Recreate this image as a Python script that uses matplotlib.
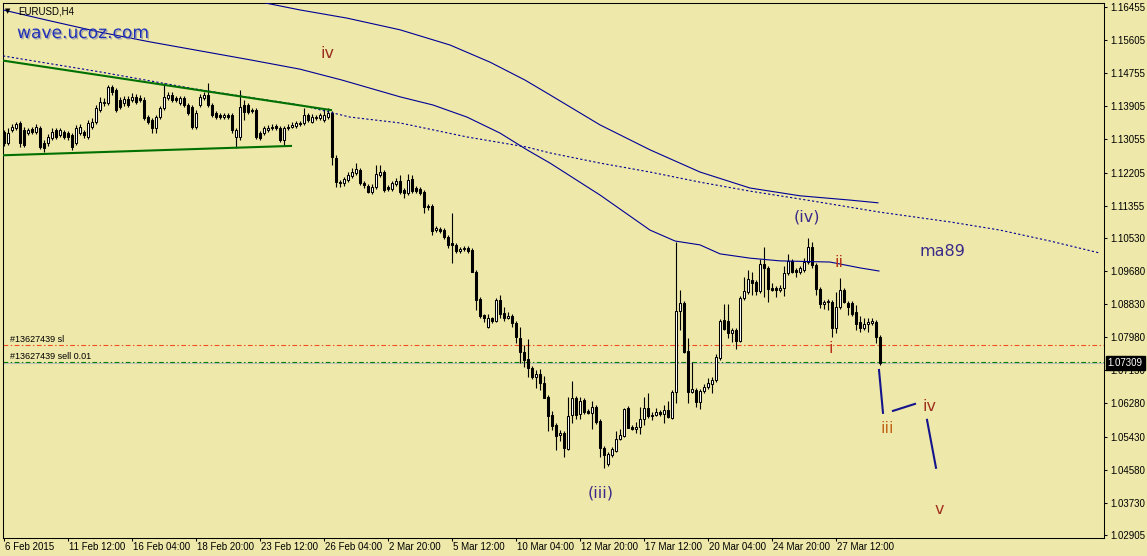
import numpy as np
import matplotlib
matplotlib.use("Agg")
import matplotlib.pyplot as plt
import matplotlib.patheffects as pe

plt.rcParams['font.family'] = ['Liberation Sans', 'DejaVu Sans']

# ---------------- data (EURUSD H4 candles) ----------------
open_ = [
 1.1325, 1.1296, 1.1330, 1.1335, 1.1348, 1.1330, 1.1322, 1.1332, 1.1325, 1.1335,
 1.1296, 1.1296, 1.1309, 1.1330, 1.1317, 1.1325, 1.1322, 1.1317, 1.1296, 1.1322,
 1.1325, 1.1312, 1.1338, 1.1350, 1.1381, 1.1399, 1.1399, 1.1440, 1.1433, 1.1407,
 1.1399, 1.1409, 1.1407, 1.1415, 1.1412, 1.1407, 1.1363, 1.1356, 1.1335, 1.1363,
 1.1386, 1.1412, 1.1420, 1.1412, 1.1399, 1.1412, 1.1394, 1.1389, 1.1338, 1.1394,
 1.1412, 1.1420, 1.1394, 1.1374, 1.1368, 1.1363, 1.1368, 1.1368, 1.1312, 1.1312,
 1.1394, 1.1394, 1.1381, 1.1381, 1.1322, 1.1322, 1.1330, 1.1335, 1.1340, 1.1335,
 1.1304, 1.1335, 1.1338, 1.1340, 1.1348, 1.1348, 1.1368, 1.1350, 1.1361, 1.1361,
 1.1356, 1.1363, 1.1374, 1.1258, 1.1196, 1.1194, 1.1202, 1.1212, 1.1220, 1.1227,
 1.1194, 1.1186, 1.1171, 1.1184, 1.1214, 1.1222, 1.1184, 1.1178, 1.1191, 1.1199,
 1.1176, 1.1168, 1.1204, 1.1181, 1.1178, 1.1171, 1.1135, 1.1135, 1.1073, 1.1076,
 1.1073, 1.1055, 1.1040, 1.1035, 1.1019, 1.1024, 1.1027, 1.1022, 1.0966, 1.0896,
 1.0855, 1.0824, 1.0847, 1.0840, 1.0894, 1.0860, 1.0847, 1.0853, 1.0835, 1.0796,
 1.0760, 1.0742, 1.0719, 1.0696, 1.0704, 1.0681, 1.0645, 1.0599, 1.0573, 1.0548,
 1.0552, 1.0511, 1.0599, 1.0642, 1.0601, 1.0637, 1.0609, 1.0604, 1.0619, 1.0583,
 1.0514, 1.0473, 1.0496, 1.0506, 1.0537, 1.0545, 1.0616, 1.0568, 1.0563, 1.0568,
 1.0588, 1.0616, 1.0596, 1.0599, 1.0606, 1.0601, 1.0611, 1.0591, 1.0658, 1.0865,
 1.0886, 1.0763, 1.0658, 1.0663, 1.0632, 1.0660, 1.0670, 1.0678, 1.0688, 1.0745,
 1.0842, 1.0840, 1.0809, 1.0817, 1.0788, 1.0899, 1.0914, 1.0945, 1.0940, 1.0917,
 1.0986, 1.0976, 1.0924, 1.0924, 1.0919, 1.0924, 1.0963, 1.0994, 1.0971, 1.0966,
 1.0971, 1.0991, 1.1030, 1.0983, 1.0922, 1.0884, 1.0888, 1.0888, 1.0822, 1.0876,
 1.0919, 1.0886, 1.0886, 1.0863, 1.0837, 1.0822, 1.0832, 1.0835, 1.0837, 1.0799]
high_ = [
 1.1330, 1.1335, 1.1345, 1.1350, 1.1353, 1.1338, 1.1335, 1.1338, 1.1345, 1.1340,
 1.1304, 1.1319, 1.1335, 1.1335, 1.1335, 1.1330, 1.1327, 1.1322, 1.1343, 1.1345,
 1.1330, 1.1356, 1.1361, 1.1394, 1.1415, 1.1412, 1.1445, 1.1445, 1.1438, 1.1415,
 1.1417, 1.1417, 1.1425, 1.1422, 1.1420, 1.1415, 1.1368, 1.1361, 1.1368, 1.1391,
 1.1451, 1.1427, 1.1427, 1.1417, 1.1417, 1.1417, 1.1399, 1.1394, 1.1381, 1.1422,
 1.1427, 1.1451, 1.1399, 1.1379, 1.1374, 1.1374, 1.1374, 1.1374, 1.1335, 1.1433,
 1.1407, 1.1399, 1.1386, 1.1386, 1.1327, 1.1340, 1.1343, 1.1345, 1.1345, 1.1340,
 1.1340, 1.1345, 1.1350, 1.1353, 1.1353, 1.1386, 1.1374, 1.1371, 1.1368, 1.1374,
 1.1384, 1.1386, 1.1379, 1.1266, 1.1202, 1.1209, 1.1222, 1.1232, 1.1245, 1.1232,
 1.1199, 1.1191, 1.1191, 1.1240, 1.1240, 1.1227, 1.1189, 1.1199, 1.1207, 1.1214,
 1.1181, 1.1217, 1.1214, 1.1186, 1.1184, 1.1176, 1.1140, 1.1140, 1.1083, 1.1081,
 1.1078, 1.1060, 1.1117, 1.1040, 1.1030, 1.1032, 1.1032, 1.1027, 1.0971, 1.0901,
 1.0858, 1.0858, 1.0850, 1.0899, 1.0906, 1.0876, 1.0863, 1.0858, 1.0840, 1.0824,
 1.0778, 1.0793, 1.0724, 1.0714, 1.0717, 1.0699, 1.0650, 1.0609, 1.0578, 1.0560,
 1.0557, 1.0645, 1.0686, 1.0647, 1.0645, 1.0642, 1.0614, 1.0634, 1.0624, 1.0588,
 1.0519, 1.0504, 1.0517, 1.0557, 1.0563, 1.0616, 1.0621, 1.0573, 1.0581, 1.0619,
 1.0645, 1.0655, 1.0606, 1.0616, 1.0611, 1.0624, 1.0634, 1.0663, 1.1042, 1.0919,
 1.0891, 1.0796, 1.0734, 1.0668, 1.0665, 1.0678, 1.0693, 1.0696, 1.0755, 1.0845,
 1.0883, 1.0883, 1.0822, 1.0822, 1.0904, 1.0953, 1.0971, 1.0966, 1.0945, 1.0999,
 1.1030, 1.0981, 1.0937, 1.0930, 1.0932, 1.0981, 1.1011, 1.0999, 1.0976, 1.0981,
 1.1002, 1.1053, 1.1042, 1.0988, 1.0927, 1.0894, 1.0896, 1.0894, 1.0914, 1.0950,
 1.0924, 1.0891, 1.0891, 1.0881, 1.0853, 1.0847, 1.0847, 1.0847, 1.0842, 1.0804]
low_ = [
 1.1289, 1.1291, 1.1325, 1.1330, 1.1286, 1.1286, 1.1317, 1.1319, 1.1319, 1.1281,
 1.1273, 1.1289, 1.1304, 1.1306, 1.1312, 1.1306, 1.1304, 1.1279, 1.1291, 1.1317,
 1.1309, 1.1306, 1.1332, 1.1345, 1.1376, 1.1391, 1.1394, 1.1420, 1.1376, 1.1384,
 1.1391, 1.1389, 1.1402, 1.1397, 1.1402, 1.1356, 1.1345, 1.1322, 1.1322, 1.1358,
 1.1381, 1.1407, 1.1402, 1.1402, 1.1394, 1.1389, 1.1368, 1.1332, 1.1332, 1.1389,
 1.1407, 1.1389, 1.1363, 1.1358, 1.1358, 1.1358, 1.1358, 1.1322, 1.1284, 1.1304,
 1.1356, 1.1371, 1.1374, 1.1306, 1.1304, 1.1317, 1.1325, 1.1330, 1.1330, 1.1299,
 1.1289, 1.1330, 1.1335, 1.1335, 1.1340, 1.1343, 1.1350, 1.1348, 1.1356, 1.1356,
 1.1350, 1.1358, 1.1240, 1.1184, 1.1184, 1.1186, 1.1196, 1.1207, 1.1214, 1.1189,
 1.1181, 1.1168, 1.1166, 1.1178, 1.1209, 1.1171, 1.1173, 1.1173, 1.1186, 1.1166,
 1.1155, 1.1163, 1.1168, 1.1168, 1.1163, 1.1117, 1.1125, 1.1060, 1.1068, 1.1066,
 1.1050, 1.1027, 1.0989, 1.1014, 1.1014, 1.1019, 1.1014, 1.0966, 1.0868, 1.0847,
 1.0837, 1.0822, 1.0835, 1.0837, 1.0847, 1.0840, 1.0845, 1.0824, 1.0783, 1.0732,
 1.0722, 1.0696, 1.0691, 1.0668, 1.0663, 1.0642, 1.0557, 1.0560, 1.0509, 1.0532,
 1.0491, 1.0509, 1.0578, 1.0588, 1.0588, 1.0601, 1.0601, 1.0563, 1.0575, 1.0491,
 1.0463, 1.0468, 1.0491, 1.0504, 1.0534, 1.0542, 1.0565, 1.0560, 1.0552, 1.0550,
 1.0573, 1.0591, 1.0586, 1.0596, 1.0596, 1.0578, 1.0591, 1.0588, 1.0629, 1.0817,
 1.0758, 1.0629, 1.0655, 1.0619, 1.0614, 1.0655, 1.0665, 1.0655, 1.0683, 1.0740,
 1.0817, 1.0796, 1.0786, 1.0768, 1.0786, 1.0894, 1.0909, 1.0906, 1.0906, 1.0912,
 1.0901, 1.0888, 1.0917, 1.0901, 1.0914, 1.0904, 1.0958, 1.0963, 1.0953, 1.0960,
 1.0966, 1.0986, 1.0976, 1.0906, 1.0873, 1.0871, 1.0868, 1.0799, 1.0809, 1.0871,
 1.0886, 1.0855, 1.0853, 1.0817, 1.0811, 1.0817, 1.0811, 1.0830, 1.0783, 1.0727]
close_ = [
 1.1296, 1.1322, 1.1338, 1.1345, 1.1296, 1.1291, 1.1330, 1.1325, 1.1338, 1.1286,
 1.1284, 1.1312, 1.1325, 1.1312, 1.1330, 1.1312, 1.1312, 1.1286, 1.1335, 1.1338,
 1.1317, 1.1348, 1.1350, 1.1386, 1.1402, 1.1402, 1.1440, 1.1427, 1.1381, 1.1389,
 1.1409, 1.1394, 1.1415, 1.1402, 1.1407, 1.1361, 1.1350, 1.1335, 1.1363, 1.1386,
 1.1415, 1.1420, 1.1407, 1.1407, 1.1412, 1.1394, 1.1374, 1.1338, 1.1374, 1.1415,
 1.1420, 1.1394, 1.1368, 1.1363, 1.1363, 1.1368, 1.1363, 1.1330, 1.1330, 1.1389,
 1.1376, 1.1376, 1.1379, 1.1312, 1.1309, 1.1335, 1.1335, 1.1338, 1.1335, 1.1304,
 1.1335, 1.1338, 1.1343, 1.1348, 1.1345, 1.1368, 1.1356, 1.1363, 1.1363, 1.1368,
 1.1368, 1.1374, 1.1261, 1.1196, 1.1194, 1.1204, 1.1214, 1.1222, 1.1230, 1.1194,
 1.1189, 1.1171, 1.1184, 1.1217, 1.1222, 1.1176, 1.1178, 1.1194, 1.1199, 1.1171,
 1.1168, 1.1202, 1.1173, 1.1173, 1.1168, 1.1132, 1.1132, 1.1071, 1.1078, 1.1071,
 1.1055, 1.1035, 1.1035, 1.1019, 1.1024, 1.1027, 1.1019, 1.0966, 1.0894, 1.0853,
 1.0847, 1.0847, 1.0840, 1.0894, 1.0858, 1.0847, 1.0853, 1.0835, 1.0799, 1.0760,
 1.0740, 1.0719, 1.0696, 1.0704, 1.0681, 1.0642, 1.0596, 1.0570, 1.0545, 1.0552,
 1.0514, 1.0596, 1.0642, 1.0599, 1.0634, 1.0606, 1.0604, 1.0619, 1.0581, 1.0514,
 1.0496, 1.0499, 1.0511, 1.0537, 1.0547, 1.0614, 1.0565, 1.0563, 1.0568, 1.0588,
 1.0616, 1.0596, 1.0599, 1.0606, 1.0601, 1.0611, 1.0593, 1.0658, 1.0865, 1.0886,
 1.0760, 1.0658, 1.0665, 1.0632, 1.0660, 1.0670, 1.0681, 1.0688, 1.0748, 1.0840,
 1.0819, 1.0809, 1.0817, 1.0788, 1.0899, 1.0917, 1.0947, 1.0937, 1.0917, 1.0986,
 1.0976, 1.0922, 1.0919, 1.0919, 1.0924, 1.0963, 1.0994, 1.0966, 1.0966, 1.0976,
 1.0991, 1.1030, 1.0983, 1.0922, 1.0884, 1.0888, 1.0891, 1.0822, 1.0876, 1.0919,
 1.0888, 1.0876, 1.0858, 1.0832, 1.0822, 1.0832, 1.0837, 1.0840, 1.0799, 1.07309]

# date labels every 16 bars
date_ticks = [0, 16, 32, 48, 64, 80, 96, 112, 128, 144, 160, 176, 192, 208]
date_labels = ["6 Feb 2015", "11 Feb 12:00", "16 Feb 04:00", "18 Feb 20:00",
               "23 Feb 12:00", "26 Feb 04:00", "2 Mar 20:00", "5 Mar 12:00",
               "10 Mar 04:00", "12 Mar 20:00", "17 Mar 12:00", "20 Mar 04:00",
               "24 Mar 20:00", "27 Mar 12:00"]
price_ticks = [1.16455, 1.15605, 1.14755, 1.13905, 1.13055, 1.12205, 1.11355,
               1.10530, 1.09680, 1.08830, 1.07980, 1.07130, 1.06280, 1.05430,
               1.04580, 1.03730, 1.02905]

# moving averages (bar index, price)
ma_slow_x = [62, 65.25, 74, 85.75, 99, 111.5, 121.5, 130.25, 136.5, 149, 161.5,
             174, 186.5, 199, 211.5, 218.5]
ma_slow_y = [1.1678, 1.1656, 1.1638, 1.1617, 1.1587, 1.1548, 1.1504, 1.1458,
             1.1420, 1.1343, 1.1279, 1.1222, 1.1181, 1.1161, 1.1150, 1.1143]
ma_mid_x = [-0.25, 11.5, 24, 36.5, 49, 61.5, 74, 84.5, 99, 107.25, 115.75, 124,
            130.75, 136.5, 149, 161.5, 167.75, 174, 179, 186.5, 194, 206.5, 214,
            218.75]
ma_mid_y = [1.1638, 1.1610, 1.1581, 1.1556, 1.1533, 1.1510, 1.1486, 1.1458,
            1.1415, 1.1394, 1.1363, 1.1322, 1.1279, 1.1245, 1.1163, 1.1073,
            1.1045, 1.1035, 1.1012, 1.1001, 1.0994, 1.0991, 1.0976, 1.0968]
ma89_x = [-0.25, 24, 49, 74, 86.5, 99, 115.75, 130.75, 136.5, 149, 161.5, 174,
          186.5, 200.75, 219, 236.5, 249, 261.5, 274]
ma89_y = [1.1520, 1.1479, 1.1433, 1.1394, 1.1363, 1.1348, 1.1312, 1.1286,
          1.1271, 1.1245, 1.1222, 1.1196, 1.1173, 1.1150, 1.1119, 1.1094,
          1.1073, 1.1045, 1.1014]

# triangle trend lines
tl_upper_x = [-0.25, 81.75]
tl_upper_y = [1.1508, 1.1381]
tl_lower_x = [-0.25, 71.75]
tl_lower_y = [1.1265, 1.1289]

# order lines
sl_price = 1.0778
sell_price = 1.07335
bid_price = 1.07309

# projected wave path
proj_x = [[218.75, 219.75], [222.25, 227.75], [230.75, 233.0]]
proj_y = [[1.0714, 1.0604], [1.0609, 1.0627], [1.0586, 1.0463]]

# wave labels
wave_text = ["iv", "(iv)", "ii", "i", "iii", "iv", "v", "(iii)", "ma89"]
wave_x = [80.75, 200.75, 208.75, 206.75, 220.75, 231.5, 233.75, 149.25, 234.5]
wave_y = [1.1527, 1.1107, 1.0991, 1.0768, 1.0565, 1.0619, 1.0355, 1.0398, 1.1019]
wave_col = ["#9B2D1F", "#3A2A8A", "#B8321A", "#B8321A", "#C0651A", "#A0301E",
            "#A0301E", "#3A2A8A", "#3A2A8A"]

# ---------------- drawing ----------------
BG = "#EEE8AA"
W, H = 1147, 556
fig = plt.figure(figsize=(W / 100, H / 100), dpi=100, facecolor=BG)
ax = fig.add_axes([3 / W, 18 / H, 1101 / W, 535 / H])
ax.set_facecolor(BG)

o = np.array(open_); h = np.array(high_); l = np.array(low_); c = np.array(close_)
x = np.arange(len(o))
up = c >= o

ax.axhline(sl_price, color="#F0501E", lw=0.8, dashes=(4.3, 2.2, 1.3, 2.2), zorder=1.2)
ax.axhline(bid_price, color="#C0C0C0", lw=0.8, zorder=1.1)
ax.axhline(sell_price, color="#008000", lw=0.8, dashes=(4.3, 2.2, 1.3, 2.2), zorder=1.3)

ax.vlines(x, l, h, color="black", lw=0.8, zorder=2)
ax.bar(x, np.abs(c - o), bottom=np.minimum(o, c), width=0.5,
       color=np.where(up, "white", "black"), edgecolor="black", linewidth=0.75,
       zorder=2.5)

ax.plot(ma_slow_x, ma_slow_y, color="#000096", lw=0.8, zorder=3)
ax.plot(ma_mid_x, ma_mid_y, color="#000096", lw=0.8, zorder=3)
ax.plot(ma89_x, ma89_y, color="#000096", lw=0.8, dashes=(2, 2), zorder=3)
ax.plot(tl_upper_x, tl_upper_y, color="#007000", lw=1.5, zorder=3.2)
ax.plot(tl_lower_x, tl_lower_y, color="#007000", lw=1.5, zorder=3.2)
for px_, py_ in zip(proj_x, proj_y):
    ax.plot(px_, py_, color="#14148C", lw=1.5, zorder=3.5)

for t, tx, ty, col in zip(wave_text, wave_x, wave_y, wave_col):
    ax.text(tx, ty, t, color=col, fontsize=11.5, ha="center", va="center",
            family=["DejaVu Sans"], zorder=4)

ax.set_xlim(-0.25, 275)
ax.set_ylim(1.02828, 1.16558)

ax.yaxis.tick_right()
ax.set_yticks(price_ticks)
ax.set_yticklabels(["%.5f" % v for v in price_ticks])
ax.tick_params(axis="y", length=2.2, width=0.75, pad=2.6, labelsize=7,
               colors="black", direction="out")
ax.set_xticks(date_ticks)
ax.set_xticklabels([])
ax.tick_params(axis="x", length=2.2, width=0.75, direction="out")
for xt, lab in zip(date_ticks, date_labels):
    ax.annotate(lab, xy=(xt, 0), xycoords=("data", "axes fraction"),
                xytext=(0.5, -6.8), textcoords="offset points", ha="left",
                va="center", fontsize=7, annotation_clip=False)
for s in ax.spines.values():
    s.set_color("black"); s.set_linewidth(0.75)

# bid label box
ax.annotate("1.07309", xy=(1, bid_price), xycoords=("axes fraction", "data"),
            xytext=(2.6, 0), textcoords="offset points", ha="left", va="center",
            fontsize=7, color="white", annotation_clip=False, zorder=6,
            bbox=dict(boxstyle="square,pad=0.2", fc="black", ec="black"))

# order labels
ax.annotate("#13627439 sl", xy=(0, sl_price), xycoords=("axes fraction", "data"),
            xytext=(5, 4), textcoords="offset points", ha="left", va="center",
            fontsize=6.5)
ax.annotate("#13627439 sell 0.01", xy=(0, sell_price),
            xycoords=("axes fraction", "data"), xytext=(5, 4.3),
            textcoords="offset points", ha="left", va="center", fontsize=6.5)

# header texts
fig.text(8 / W, 1 - 11 / H, "\u25BC", fontsize=5, ha="center", va="center",
         family=["DejaVu Sans"])
fig.text(18 / W, 1 - 11 / H, "EURUSD,H4", fontsize=7, ha="left", va="center")
fig.text(17 / W, 1 - 33 / H, "wave.ucoz.com", fontsize=12.3, ha="left",
         va="center", color="#1F30B8", family=["DejaVu Sans"],
         path_effects=[pe.withSimplePatchShadow(offset=(1, -1),
                                                shadow_rgbFace="#8080A0",
                                                alpha=0.6)])

fig.savefig("out.png", dpi=100, facecolor=BG)
